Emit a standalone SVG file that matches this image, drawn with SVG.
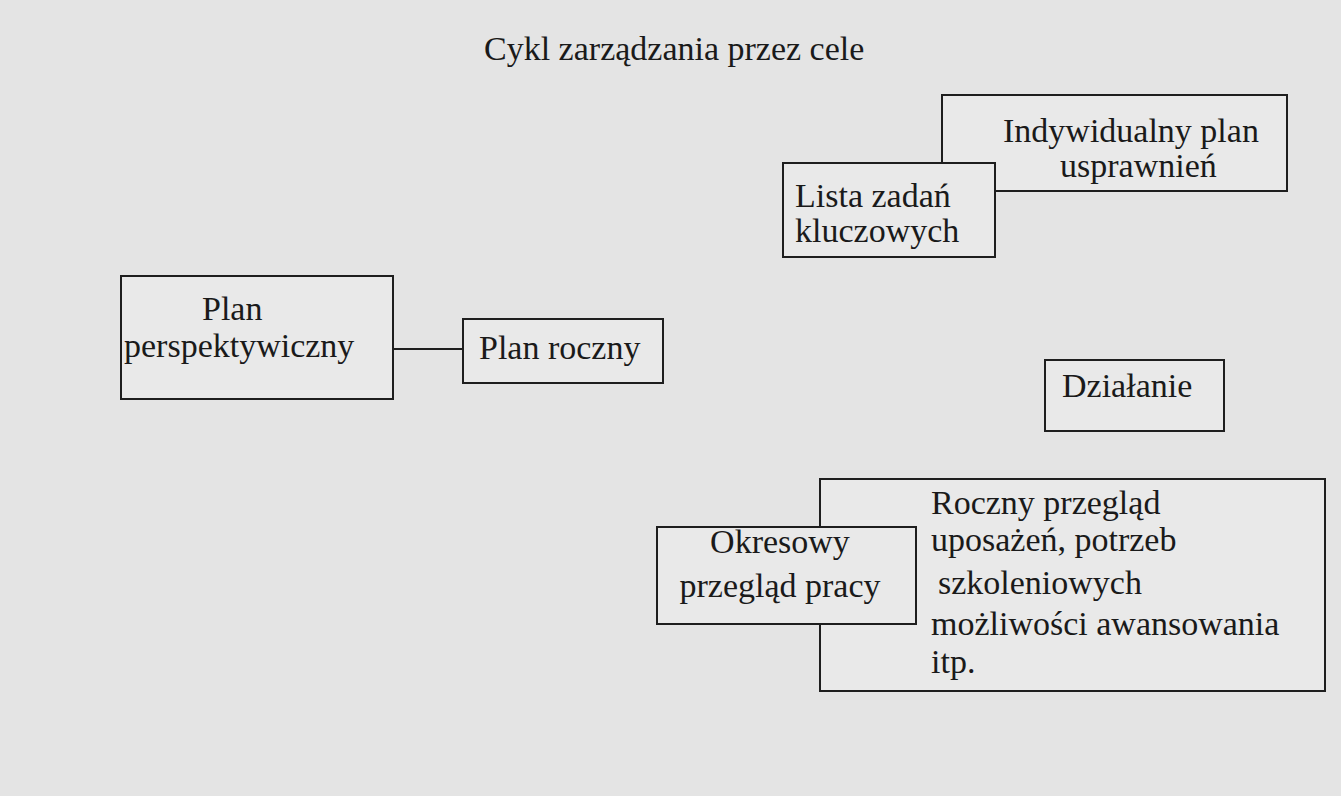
<svg xmlns="http://www.w3.org/2000/svg" width="1341" height="796" viewBox="0 0 1341 796">
  <style>
    .box { fill: #e9e9e9; stroke: #1e1e1e; stroke-width: 2; }
    .lbl { font-family: "Liberation Serif", "Times New Roman", serif; font-size: 34px; fill: #1a1a1a; }
    .mid { text-anchor: middle; }
    .edge { stroke: #1e1e1e; stroke-width: 2; fill: none; }
  </style>

  <!-- page -->
  <rect x="0" y="0" width="1341" height="796" fill="#e4e4e4"/>

  <!-- title -->
  <text id="title" class="lbl" x="484" y="60">Cykl zarządzania przez cele</text>

  <!-- connectors -->
  <g id="connectors">
    <line class="edge" x1="393" y1="349" x2="463" y2="349"/>
  </g>

  <g id="plan-indywidualny">
    <rect class="box" x="942" y="95" width="345" height="96"/>
    <text class="lbl" x="1003" y="142">Indywidualny plan</text>
    <text class="lbl" x="1060" y="177">usprawnień</text>
  </g>

  <!-- drawn after the plan box so its fill hides that box's corner -->
  <g id="lista-zadan">
    <rect class="box" x="783" y="163" width="212" height="94"/>
    <text class="lbl" x="795" y="207">Lista zadań</text>
    <text class="lbl" x="795" y="242">kluczowych</text>
  </g>

  <g id="plan-perspektywiczny">
    <rect class="box" x="121" y="276" width="272" height="123"/>
    <text class="lbl" x="202" y="320">Plan</text>
    <text class="lbl" x="124" y="357">perspektywiczny</text>
  </g>

  <g id="plan-roczny">
    <rect class="box" x="463" y="319" width="200" height="64"/>
    <text class="lbl" x="479" y="359">Plan roczny</text>
  </g>

  <g id="dzialanie">
    <rect class="box" x="1045" y="360" width="179" height="71"/>
    <text class="lbl" x="1062" y="397">Działanie</text>
  </g>

  <g id="roczny-przeglad">
    <rect class="box" x="820" y="479" width="505" height="212"/>
    <text class="lbl" x="931" y="514">Roczny przegląd</text>
    <text class="lbl" x="931" y="551">uposażeń, potrzeb</text>
    <text class="lbl" x="938" y="594">szkoleniowych</text>
    <text class="lbl" x="931" y="635">możliwości awansowania</text>
    <text class="lbl" x="931" y="673">itp.</text>
  </g>

  <!-- overlaps the left edge of the annual review box -->
  <g id="okresowy-przeglad">
    <rect class="box" x="657" y="527" width="259" height="97"/>
    <text class="lbl mid" x="780" y="553">Okresowy</text>
    <text class="lbl mid" x="780" y="597">przegląd pracy</text>
  </g>
</svg>
